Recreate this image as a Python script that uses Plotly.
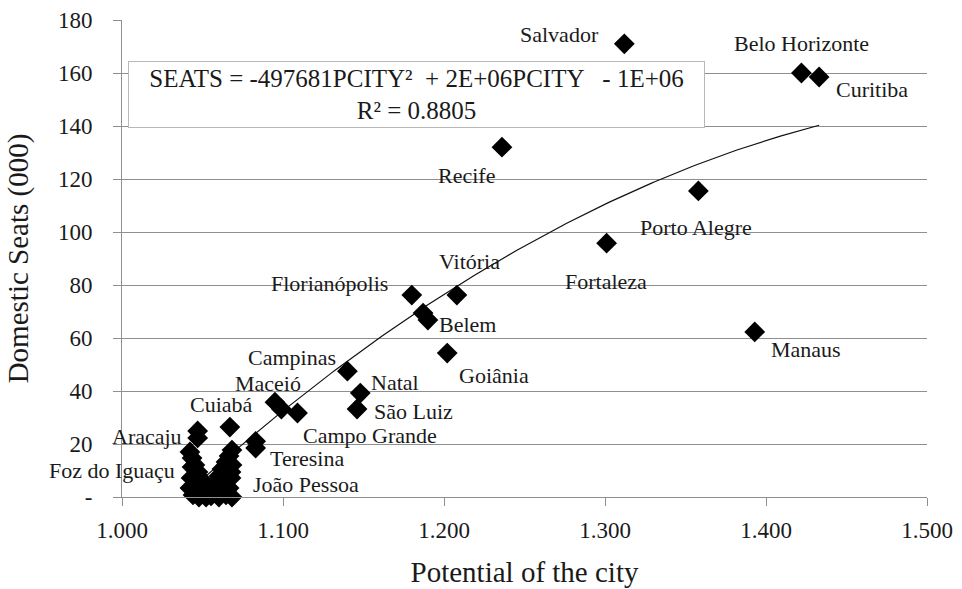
import numpy as np
import plotly.graph_objects as go

# Labelled cities: potential of the city vs domestic seats (thousands)
CITIES = ["Salvador", "Belo Horizonte", "Curitiba", "Recife", "Porto Alegre",
          "Fortaleza", "Manaus", "Vitória", "Florianópolis", "Belem", "Goiânia",
          "Campinas", "Natal", "São Luiz", "Maceió", "Campo Grande", "Cuiabá",
          "Aracaju", "Teresina", "Foz do Iguaçu", "João Pessoa"]
CITY_PCITY = [1.312, 1.422, 1.433, 1.236, 1.358,
              1.301, 1.393, 1.208, 1.180, 1.190, 1.202,
              1.140, 1.148, 1.146, 1.095, 1.109, 1.067,
              1.047, 1.083, 1.0435, 1.0646]
CITY_SEATS = [171.0, 160.0, 158.5, 132.0, 115.5,
              95.8, 62.3, 76.2, 76.2, 66.8, 54.3,
              47.5, 39.2, 33.2, 35.8, 31.7, 26.4,
              24.9, 18.5, 11.3, 0.8]

# Remaining (unlabelled) airports
OTHER_PCITY = [1.187, 1.099, 1.047, 1.083,
               1.0422, 1.0435, 1.0453, 1.0472, 1.0491, 1.0509, 1.0528,
               1.0429, 1.0422, 1.0441, 1.0478, 1.0522,
               1.0683, 1.0665, 1.0646, 1.0621, 1.0602, 1.0584, 1.0565,
               1.0553, 1.0683, 1.0677, 1.0665, 1.0602, 1.0683, 1.0640, 1.0677]
OTHER_SEATS = [69.4, 33.2, 22.3, 21.0,
               17.0, 14.7, 12.1, 9.4, 6.8, 4.2, 1.9,
               7.2, 3.4, 0.8, 0.0, 0.0,
               17.7, 15.5, 13.2, 10.6, 7.9, 5.3, 2.6,
               0.4, 12.1, 7.2, 3.4, 0.0, 0.0, 5.7, 9.4]

# Polynomial trendline coefficients (seats in thousands): a*P^2 + b*P + c
TREND_COEFFS = [-497.681, 1584.2, -1107.9]
EQUATION = "SEATS = -497681PCITY²  + 2E+06PCITY   - 1E+06"
R_SQUARED = "R² = 0.8805"

X_TICKS = [1.0, 1.1, 1.2, 1.3, 1.4, 1.5]
X_TICK_TEXT = ["1.000", "1.100", "1.200", "1.300", "1.400", "1.500"]
Y_TICKS = [0, 20, 40, 60, 80, 100, 120, 140, 160, 180]
Y_TICK_TEXT = ["-", "20", "40", "60", "80", "100", "120", "140", "160", "180"]

# Label placement relative to each city's marker (pixels)
LABEL_SHIFT = {
    "Salvador": (-65, 9), "Belo Horizonte": (0, 30), "Curitiba": (53, -13),
    "Recife": (-35, -28), "Porto Alegre": (-2, -37), "Fortaleza": (-1, -38),
    "Manaus": (51, -18), "Vitória": (13, 34), "Florianópolis": (-82, 12),
    "Belem": (40, -5), "Goiânia": (47, -22), "Campinas": (-55, 14),
    "Natal": (35, 11), "São Luiz": (56, -2), "Maceió": (-7, 19),
    "Campo Grande": (73, -22), "Cuiabá": (-8, 23), "Aracaju": (-51, -5),
    "Teresina": (51, -11), "Foz do Iguaçu": (-80, -3), "João Pessoa": (80, 10),
}

FONT = "Liberation Serif, Times New Roman, serif"
GRID = "#8f8f8f"
INK = "#1a1a1a"

all_x = np.array(CITY_PCITY + OTHER_PCITY)
xt = np.linspace(all_x.min(), all_x.max(), 200)
yt = np.polyval(TREND_COEFFS, xt)

fig = go.Figure()
fig.add_trace(go.Scatter(
    x=xt, y=yt, mode="lines", line=dict(color="#111111", width=1.2),
    hoverinfo="skip", showlegend=False))
fig.add_trace(go.Scatter(
    x=OTHER_PCITY, y=OTHER_SEATS, mode="markers",
    marker=dict(symbol="diamond", size=16, color="#000000"),
    cliponaxis=False, showlegend=False))
fig.add_trace(go.Scatter(
    x=CITY_PCITY, y=CITY_SEATS, mode="markers", text=CITIES,
    marker=dict(symbol="diamond", size=16, color="#000000"),
    cliponaxis=False, showlegend=False))

for name, px, sy in zip(CITIES, CITY_PCITY, CITY_SEATS):
    dx, dy = LABEL_SHIFT[name]
    fig.add_annotation(x=px, y=sy, xref="x", yref="y", text=name,
                       showarrow=False, xshift=dx, yshift=dy,
                       font=dict(family=FONT, size=22, color=INK))

# Trendline equation box
fig.add_annotation(x=0.0075, y=0.914, xref="paper", yref="paper",
                   xanchor="left", yanchor="top",
                   text=EQUATION + "<br>" + R_SQUARED, showarrow=False,
                   align="center", valign="middle", bgcolor="#ffffff",
                   bordercolor="#b8b8b8", borderwidth=1, borderpad=4,
                   width=567, height=57,
                   font=dict(family=FONT, size=25, color=INK))

fig.update_layout(
    width=962, height=589,
    margin=dict(l=122, r=35, t=20, b=92),
    paper_bgcolor="#ffffff", plot_bgcolor="#ffffff",
    font=dict(family=FONT, size=23, color=INK),
    showlegend=False,
    xaxis=dict(range=[1.0, 1.5], tickvals=X_TICKS, ticktext=X_TICK_TEXT,
               automargin=False,
               showgrid=False, zeroline=False, showline=True, linecolor=GRID,
               linewidth=1, ticks="outside", ticklen=8, tickcolor=GRID,
               ticklabelstandoff=4,
               tickfont=dict(family=FONT, size=23, color=INK),
               title=dict(text="Potential of the city", standoff=20,
                          font=dict(family=FONT, size=29, color=INK))),
    yaxis=dict(range=[0, 180], tickvals=Y_TICKS, ticktext=Y_TICK_TEXT,
               automargin=False,
               showgrid=True, gridcolor=GRID, gridwidth=1, zeroline=False,
               showline=True, linecolor=GRID, linewidth=1,
               ticks="outside", ticklen=8, tickcolor=GRID,
               ticklabelstandoff=16,
               tickfont=dict(family=FONT, size=23, color=INK),
               title=dict(text="Domestic Seats (000)", standoff=20,
                          font=dict(family=FONT, size=29, color=INK))),
)

fig.write_html("out.html")
